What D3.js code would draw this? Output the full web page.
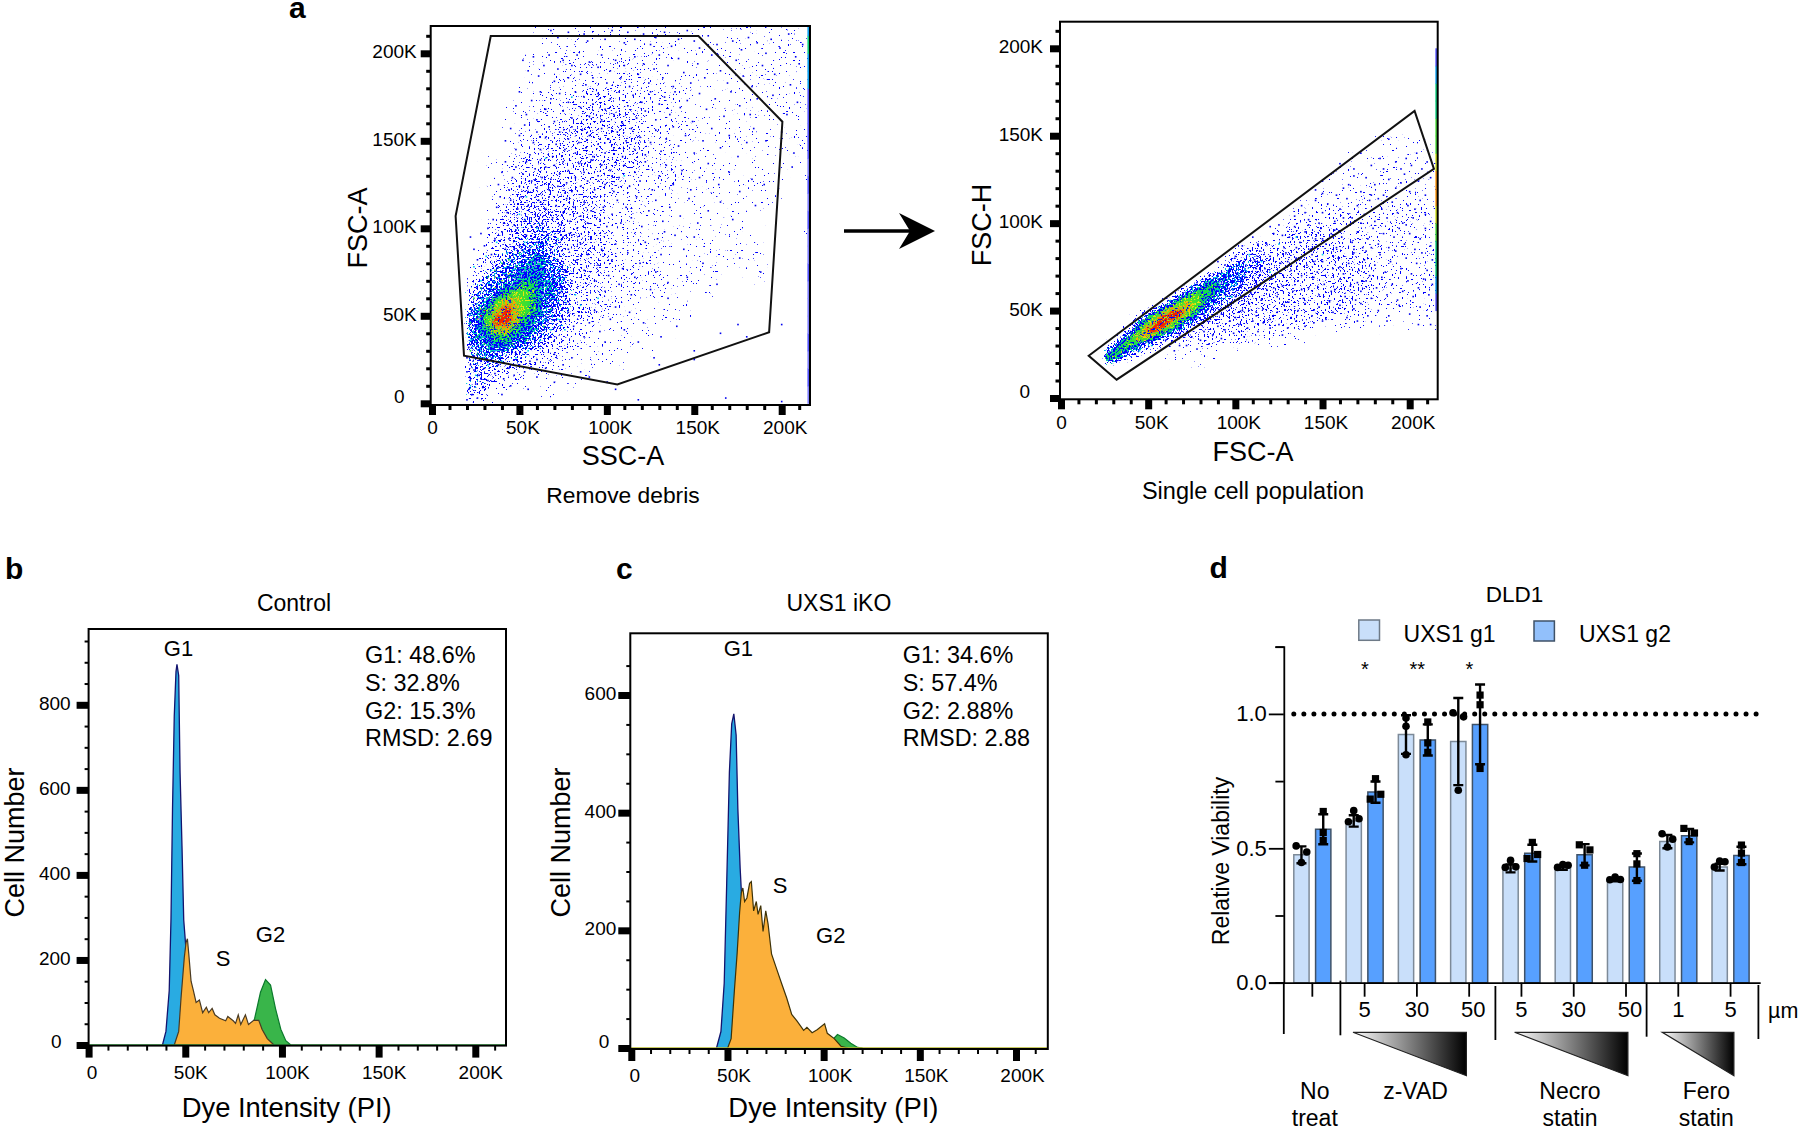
<!DOCTYPE html>
<html>
<head>
<meta charset="utf-8">
<script src="https://cdn.jsdelivr.net/npm/d3@7"></script>
<style>
  html, body { margin: 0; background: #fff; }
  svg { display: block; font-family: "Liberation Sans", Arial, sans-serif; }
</style>
</head>
<body>
<div id="chart"></div>
<script>
// ---- panel a, left: gate and dots (values in K)
const debrisGate = [[33.6,209.9],[152.4,209.9],[200.4,160.9],[192.8,40.6],[106,10.8],[18.3,27.2],[13.5,107]]
// coarse density, top row first. rows 5K tall from y=125 down, columns 5K wide from x=20
const debrisGrid = [
  "0000011111110000","0000111111111000","0000112121111000","0001122221111000","0001222222111100",
  "0011223332211100","0012233333221100","0012233343321110","0122334443321110","0123344554322110",
  "1223445554432211","1234455554432211","2344556655432211","3445677655432211","3457887654432211",
  "4568987654332221","4579986544322211","4568865543321110","4556655433221100","4455544332211000",
  "3444333222110000","3333222211100000","3322221111000000","3322111000000000","3221100000000000",
  "2110000000000000"
]
// the thin outer cloud, 10K cells, from y=210 down, columns from x=30
const debrisSparse = [
  "0001111111111111111","0001111111111111111","0011222222111111111","0011222222211111111",
  "0012223322211111111","0112233332211111111","0122333332221111111","0123333332211111111",
  "1233333332221111101","1233333322211111101","1233333222111111100","1233333221111110000",
  "0000333222111111001","0000033222111111000","0000003222111101000","0000002221111000000",
  "0000002211110000000","0000002111100000000","0000011111000000000","0001111100000000000",
  "0011111000000000000","0001000000000000000"
]
const debrisEdge = [[0,2],[10,3],[20,2],[30,3],[40,2],[50,2],[60,2],[70,3],[80,2],[90,2],[100,3],[110,2],[120,3],[130,2],[140,3],[150,3],[160,3],[170,3],[180,4],[190,4],[200,5],[210,4]]
const debrisBlue = [
  [68,213],[72,209],[78,212],[87,211],[89,207],[99,208],[103,213],[106,210],[110,206],[112,212],[116,208],[121,211],[125,205],[128,209],[133,212],[137,204],[141,208],[146,213],[150,207],[153,203],[158,210],[163,205],[172,207],[177,202],[181,209],[186,206],[191,200],[194,208],[199,203],[204,211],[208,198],[212,205],
  [52,196],[55,190],[58,198],[61,187],[64,193],[67,199],[70,184],[72,191],[75,196],[78,186],[80,193],[83,199],[85,188],[88,182],[90,195],[92,186],[95,192],[97,199],[100,183],[102,190],[105,196],[108,186],[110,193],[113,181],[116,198],[118,188],[121,194],[124,183],[127,191],[130,199],[132,186],[135,193],[138,181],[141,197],[144,189],[148,183],[152,194],[156,186],[160,199],[165,190],[169,183],[174,196],[178,187],[183,181],[189,193],[196,188],[205,182],[210,194],
  [48,170],[50,178],[54,165],[57,173],[60,162],[62,178],[65,168],[68,174],[70,161],[73,177],[75,167],[78,172],[80,163],[82,178],[85,169],[87,175],[90,164],[92,171],[95,177],[97,162],[99,168],[102,174],[104,165],[107,178],[109,160],[112,170],[115,176],[117,163],[120,172],[122,167],[125,178],[128,162],[130,171],[133,175],[136,165],[139,178],[142,169],[146,173],[149,161],[153,177],[157,168],[162,174],[167,164],[171,178],[176,170],[182,165],[186,174],[195,176],[203,165],[209,172],
  [42,150],[45,157],[48,145],[50,153],[53,159],[56,142],[58,149],[60,155],[62,145],[65,152],[67,158],[69,141],[71,148],[73,155],[76,145],[78,151],[80,158],[82,143],[84,149],[86,156],[88,146],[90,153],[92,141],[95,148],[97,157],[99,143],[101,151],[104,146],[106,155],[109,141],[111,150],[114,157],[116,145],[119,152],[122,142],[125,149],[128,156],[131,144],[134,151],[138,158],[141,147],[145,153],[150,143],[155,150],[160,157],[165,146],[170,153],[175,141],[180,149],[184,157],[191,150],[200,155],[207,143],
  [38,125],[40,132],[42,138],[44,122],[46,129],[48,135],[50,124],[52,131],[54,138],[55,121],[57,127],[59,134],[60,123],[62,139],[63,129],[65,135],[67,122],[68,128],[70,136],[72,124],[73,131],[75,138],[77,126],[78,133],[80,121],[82,129],[84,137],[85,124],[87,132],[89,127],[91,139],[93,122],[95,130],[97,136],[99,125],[102,133],[104,121],[107,129],[110,136],[113,124],[116,132],[119,127],[122,138],[126,122],[130,130],[134,136],[138,125],[143,133],[148,122],[153,129],[158,137],[164,125],[170,132],[176,121],[183,128],[190,125],[206,135],
  [35,105],[37,112],[39,118],[41,103],[43,109],[45,116],[47,102],[49,111],[51,118],[53,105],[55,113],[57,101],[59,108],[61,116],[63,103],[65,111],[67,118],[69,106],[71,113],[73,102],[75,109],[77,117],[79,104],[81,112],[83,100],[85,107],[87,115],[89,103],[91,110],[93,118],[96,105],[98,112],[100,101],[103,108],[106,116],[108,103],[111,112],[114,106],[117,118],[120,101],[124,110],[128,116],[132,104],[136,112],[142,107],[147,117],[152,103],[158,110],[165,115],[172,105],[185,113],
  [75,95],[78,88],[80,96],[83,82],[85,91],[87,76],[89,85],[91,94],[93,70],[95,79],[97,88],[99,64],[101,73],[103,82],[105,91],[107,68],[109,77],[112,86],[114,62],[116,72],[119,80],[122,92],[125,65],[128,75],[131,85],[135,69],[139,96],[133,98],[129,94],[144,88],[150,95],[146,72],[155,80],[163,68],[176,83],[188,75],[135,60],
  [72,55],[75,48],[78,52],[81,44],[84,50],[87,38],[90,46],[93,53],[96,41],[99,35],[102,48],[105,55],[110,42],[113,52],[118,35],[121,46],[127,26],[131,38],[140,44],[150,30],[165,40],[175,45],[180,38],[200,45],
  [60,25],[65,20],[70,28],[75,22],[80,26],[85,18],[90,15],[100,12],[105,8],[70,12],[60,15],[55,8],[45,10],[40,5],[118,2],[168,3],[200,1],[130,22],[150,25],
  [22,95],[24,88],[26,82],[28,97],[30,90],[32,100],[34,85],[36,94],[38,78],[40,98],[42,88],[44,94],[46,82],[48,99],[50,90],[52,84],[54,96],[56,88],[58,78],[60,92],[62,84],[64,98],[66,76],[68,88],[70,70],[72,82],[74,64],[76,76],[78,58],[80,70],
  [20,2],[21,8],[22,14],[23,5],[24,19],[25,11],[26,3],[27,16],[28,24],[29,9],[30,20],[32,13],[34,25],[36,17],[38,22],[41,14],[44,20],[47,16],[50,22],[53,18],[56,24],[20,18],[22,22],[25,26],[20,26],[21,32]
]
const debrisCyan = [[24,78],[28,70],[31,84],[34,76],[37,92],[40,70],[43,86],[46,76],[50,80],[53,92],[56,74],[60,66],[63,78],[66,70],[70,62],[72,48],[68,42],[62,36],[55,30],[48,26],[40,24],[32,22],[25,16],[22,10],[28,30],[22,36],[36,30],[64,52],[76,42],[60,100],[82,62],[72,94],[85,56],[95,60],[50,108],[54,118],[65,140],[80,175],[110,130]]
const debrisGreen = [[22,46],[24,60],[26,38],[28,66],[30,34],[32,72],[34,30],[36,76],[38,32],[40,80],[42,36],[44,72],[46,34],[48,78],[50,40],[52,70],[54,36],[56,74],[58,46],[60,70],[62,58],[64,44],[66,62],[56,82],[50,86],[44,82],[26,28],[22,30],[30,26],[68,54]]
const debrisYellow = [[26,48],[28,54],[30,44],[32,60],[34,40],[36,66],[38,42],[40,70],[42,44],[44,62],[46,46],[48,66],[50,50],[52,60],[54,52],[56,66],[44,74],[36,72]]
const debrisRed = [[28,50],[30,53],[32,46],[33,56],[35,49],[36,44],[37,58],[38,52],[39,47],[40,55],[41,62],[42,50],[43,57],[44,53],[45,60],[34,52],[46,56],[31,48]]

// ---- panel a, right
const singletGate = [[15.9,24.2],[202.8,164.2],[213.9,131],[31.9,10.5]]
// rows 2.5K tall from y=87.5 down to y=20, columns 2.5K wide from x=25
const singletGrid = [
  "0000000000000000000000000000000011222211","0000000000000000000000000000001122222211",
  "0000000000000000000000000000011223322211","0000000000000000000000000000122333332221",
  "0000000000000000000000000001233333332221","0000000000000000000000000012334443332222",
  "0000000000000000000000000123444443332222","0000000000000000000000012344544443332221",
  "0000000000000000000001234455544433322221","0000000000000000000123455555444433322211",
  "0000000000000000012345566655443332221111","0000000000000000123456666554433322211111",
  "0000000000000012345677666544333222111111","0000000000001234567777655443332221111000",
  "0000000000012345778877654433222211111000","0000000001234578888876544332221111100000",
  "0000000123456889998765433222211110000000","0000001234678999987654332221111000000000",
  "0000012356789998765443322111100000000000","0000123568899987654332211110000000000000",
  "0001234678998765443222111000000000000000","0012346788876544322111100000000000000000",
  "0123567877654332211110000000000000000000","1235676654432211110000000000000000000000",
  "2456665543221110000000000000000000000000","4566544321110000000000000000000000000000",
  "6665433211000000000000000000000000000000","5543210000000000000000000000000000000000"
]
// the thin outer cloud, 10K cells, from y=140 down, columns from x=60
const singletSparse = [
  "0000000000001111","0000000000111111","0000000001111111","0000000011122121",
  "0000000222222222","0000002333222222","0000023333322222","0000233333332222",
  "0001333333332222","0013333333322222","0133333332221111","1232322100000000","1110000000000000"
]
const singletEdge = [[50,3],[60,4],[70,5],[80,5],[90,6],[100,7],[110,8],[120,8],[130,7],[140,6],[150,6],[160,5],[170,5],[180,4],[190,3]]
const singletBlue = [
  [188,148],[172,140],[160,134],[198,137],[204,140],[201,133],[192,135],[183,137],[178,133],[168,131],[185,131],[195,131],[207,131],[210,135],
  [150,124],[155,128],[162,120],[168,127],[172,118],[175,126],[180,122],[185,116],[188,125],[192,120],[197,128],[200,118],[205,124],[209,116],[212,126],[146,119],[158,116],[165,122],[178,116],[195,123],[150,117],
  [134,104],[138,110],[142,102],[146,113],[150,106],[153,111],[157,101],[160,108],[164,114],[167,103],[170,110],[174,105],[177,113],[180,101],[184,108],[187,103],[190,112],[193,106],[196,100],[199,110],[202,103],[206,113],[209,105],[212,101],[140,106],[148,100],[162,103],[172,100],[182,114],[203,108],
  [118,88],[122,94],[125,99],[128,86],[131,92],[134,98],[137,89],[140,95],[143,85],[146,91],[149,97],[152,88],[155,94],[158,86],[161,92],[164,98],[167,89],[170,95],[173,86],[176,91],[179,97],[182,88],[185,94],[188,86],[191,92],[194,97],[197,88],[200,94],[203,85],[206,91],[209,97],[212,87],[120,98],[127,93],[135,86],[142,99],[150,91],[157,96],[168,85],[178,86],[198,99],
  [108,72],[111,79],[114,84],[117,74],[120,81],[123,71],[126,77],[129,83],[132,73],[135,80],[138,70],[141,76],[144,82],[147,72],[150,78],[153,84],[156,74],[159,80],[162,71],[165,77],[168,83],[171,73],[174,79],[177,70],[180,76],[183,82],[186,72],[189,78],[192,84],[195,74],[198,80],[201,71],[204,77],[207,83],[210,73],[213,79],[130,78],[145,78],[160,75],[175,84],
  [100,58],[103,64],[106,69],[109,60],[112,66],[115,56],[118,62],[121,68],[124,58],[127,64],[130,55],[133,61],[136,67],[139,57],[142,63],[145,69],[148,59],[151,65],[154,55],[157,62],[160,68],[163,58],[166,64],[169,56],[172,61],[175,67],[178,57],[181,63],[184,69],[187,59],[190,65],[193,56],[196,61],[199,67],[202,58],[205,63],[208,68],[211,59],[213,65],[122,63],[138,62],[155,61],[170,66],
  [92,48],[96,52],[100,46],[104,50],[108,54],[112,47],[116,51],[120,45],[124,49],[128,53],[132,46],[136,50],[140,54],[144,47],[148,52],[152,45],[156,49],[160,53],[164,46],[168,51],[172,54],[176,47],[182,50],[188,47],[194,53],[200,48],[206,52],[210,47],
  [72,30],[75,35],[78,28],[80,33],[82,38],[85,31],[87,36],[90,41],[92,34],[94,39],[97,44],[99,37],[102,42],[105,35],[107,40],[110,44],[113,38],[116,43],[120,40],[125,42],[130,40],[135,44],[140,41],[145,43],[150,44],[170,44],[187,44],[205,42],[212,42],[127,36],[65,27],[68,30],
  [104,87],[110,92],[113,88],[100,81],[94,76],[90,78],[85,70],[78,66],[70,60],[105,78],[112,74],[102,70],[95,62],[88,55],[82,48],[75,42],[68,36],[60,33]
]
const singletCyan = [[115,78],[125,88],[100,66],[108,82],[95,70],[90,62],[85,60],[120,72],[135,92],[150,82],[98,58],[78,50],[70,44],[62,38],[52,30],[45,27]]
const singletHot = [[60,47],[55,43],[64,48],[50,40],[57,46],[67,50]]

// ---- panel b, Control (x in K, y in cells)
const controlG1 = [[38.2,0],[40,32],[41.7,128],[42.6,294],[43.4,555],[44.3,773],[45.2,878],[45.7,895],[46.6,869],[47.3,642],[48.3,468],[49.2,294],[50.1,241],[52,120],[54,40],[56,0]]
const controlS = [[44.3,0],[46.6,32],[47.8,110],[49.5,206],[50.4,241],[51.1,250],[51.8,215],[53,150],[54.2,128],[55.6,100],[57.3,106],[59,76],[60.9,89],[62.1,76],[63.9,86],[65.3,71],[67.7,63],[70.9,57],[72,67],[74.8,57],[76,51],[77.4,71],[78.7,48],[81.1,71],[82.7,48],[85.4,58],[88,58],[89.7,37],[92.4,15],[95.9,0]]
const controlG2 = [[80,0],[83,20],[85.9,63],[88.9,124],[91.5,154],[94.1,141],[96.7,85],[99.4,37],[102,10],[104.6,0]]
const controlStats = ["G1: 48.6%", "S: 32.8%", "G2: 15.3%", "RMSD: 2.69"]

// ---- panel c, UXS1 iKO
const ikoG1 = [[44.3,0],[46.6,28],[48.3,110],[49.6,280],[51,469],[52.2,551],[53.3,568],[54.5,532],[55.4,406],[56.6,305],[57.5,249],[60,120],[63,30],[66,0]]
const ikoS = [[50.1,0],[51.9,16],[53.6,98],[55,160],[56.3,230],[57.2,264],[58,272],[58.9,249],[60.1,255],[61.5,280],[62.4,283],[63.6,233],[65,249],[65.9,227],[67.3,242],[68.5,198],[69.9,233],[71.1,211],[72.9,160],[75.5,135],[78.1,110],[80.8,85],[83.4,57],[86.1,46],[89.6,30],[91.3,35],[94,26],[96.6,31],[100.5,41],[101.9,25],[105.5,16],[109,3],[112.5,0]]
const ikoG2 = [[100,3],[104,12],[107.2,23],[110.7,17],[114.1,8],[117.7,1],[120.3,0]]
const ikoStats = ["G1: 34.6%", "S: 57.4%", "G2: 2.88%", "RMSD: 2.88"]

// ---- panel d, DLD1
const treatments = ["none","zvad5","zvad30","zvad50","necro5","necro30","necro50","fero1","fero5"]
const doseLabels = ["","5","30","50","5","30","50","1","5"]
const g1Viability = [0.476,0.602,0.923,0.897,0.425,0.426,0.383,0.525,0.430]
const g2Viability = [0.571,0.709,0.903,0.961,0.482,0.476,0.430,0.547,0.473]
const g1Replicates = [[0.509,0.486,0.447],[0.599,0.640,0.610],[0.985,0.954,0.848],[1.004,0.989,0.716],[0.429,0.455,0.431],[0.429,0.440,0.437],[0.383,0.393,0.384],[0.554,0.534,0.505],[0.430,0.453,0.450]]
const g2Replicates = [[0.637,0.559,0.529],[0.683,0.759,0.701],[0.970,0.892,0.857],[1.070,1.034,0.797],[0.462,0.522,0.477],[0.513,0.494,0.437],[0.480,0.442,0.380],[0.574,0.557,0.525],[0.512,0.482,0.447]]
const stars = [["zvad5","*"],["zvad30","**"],["zvad50","*"]]

// density level to colour and grain cover, one entry per level 0-9. three passes so colours mix like the original
const bluePass = { color: () => "#0000ff", alpha: [0,0.2,0.3,0.42,0.54,0.7,1,1,1,1] }
const coolPass = { colors: [0,0,0,0,"#00b8e8","#00d0b0","#18dc50","#40e030","#80e020","#a0e020"], alpha: [0,0,0,0.16,0.34,0.48,0.64,0.8,0.7,0.55] }
const hotPass = { colors: [0,0,0,0,0,0,0,"#e8e810","#ffa000","#f02000"], alpha: [0,0,0,0,0,0,0.22,0.4,0.52,0.68] }
const sparseAlpha = [0,0.12,0.2,0.3]
const edgeHeat = ["none","#b0b0ff","#8080ff","#5858ff","#10a0f0","#10d080","#50e040","#d0e020","#ff9810","#f02806"]

const svg = d3.select("#chart").append("svg")
    .attr("width", 1800)
    .attr("height", 1131)

const defs = svg.append("defs")

// speckle look of a pseudocolour plot: soften the read cells, then cut them with a fine grain
function addGrain(id, blur, seed) {
  const f = defs.append("filter").attr("id", id)
    .attr("filterUnits", "userSpaceOnUse").attr("x", 0).attr("y", 0).attr("width", 1800).attr("height", 1131)
    .attr("color-interpolation-filters", "sRGB")
  f.append("feGaussianBlur").attr("in", "SourceGraphic").attr("stdDeviation", blur).attr("result", "b")
  f.append("feComponentTransfer").attr("in", "b").attr("result", "solid")
    .append("feFuncA").attr("type", "linear").attr("slope", 30)
  f.append("feTurbulence").attr("type", "fractalNoise").attr("baseFrequency", 0.52)
    .attr("numOctaves", 2).attr("seed", seed).attr("result", "n")
  f.append("feColorMatrix").attr("in", "n").attr("type", "matrix")
    .attr("values", "0 0 0 0 0  0 0 0 0 0  0 0 0 0 0  2.5 0 0 0 -1").attr("result", "na")
  f.append("feComposite").attr("in", "b").attr("in2", "na").attr("operator", "arithmetic")
    .attr("k1", 0).attr("k2", 1.5).attr("k3", 1).attr("k4", -1).attr("result", "sum")
  f.append("feComponentTransfer").attr("in", "sum").attr("result", "mask")
    .append("feFuncA").attr("type", "linear").attr("slope", 14)
  f.append("feComposite").attr("in", "solid").attr("in2", "mask").attr("operator", "in")
}
addGrain("coreBlue", 2.2, 4)
addGrain("coreCool", 2.2, 5)
addGrain("coreHot", 2.2, 6)
addGrain("fineBlue", 1.5, 9)
addGrain("fineCool", 1.5, 10)
addGrain("fineHot", 1.5, 11)
addGrain("grainSparse", 4, 17)

const wedgeFill = defs.append("linearGradient").attr("id", "wedgeFill")
wedgeFill.append("stop").attr("offset", "0%").attr("stop-color", "#fff")
wedgeFill.append("stop").attr("offset", "100%").attr("stop-color", "#000")

const kLabel = d => d === 0 ? "0" : d / 1000 + "K"

const addText = (g, txt, x, y, size, anchor = "middle", weight = "normal") =>
  g.append("text").attr("x", x).attr("y", y)
    .attr("font-size", size).attr("text-anchor", anchor).attr("font-weight", weight)
    .attr("fill", "#000").text(txt)

const addRotated = (g, txt, x, y, size) =>
  g.append("text").attr("transform", `translate(${x},${y}) rotate(-90)`)
    .attr("font-size", size).attr("text-anchor", "middle").attr("fill", "#000").text(txt)

// frame, thick major ticks, thin minor ticks
function flowAxes(o) {
  const g = svg.append("g")
  const xMinor = d3.range(10, 220, 10).filter(d => d % 50)
  const xMajor = [0, 50, 100, 150, 200]

  const minorX = d3.axisBottom(o.x).tickValues(xMinor).tickFormat("").tickSize(o.xMinorLen)
  g.append("g").attr("transform", `translate(0,${o.bottom})`).call(minorX)
    .call(a => a.select(".domain").remove())
    .call(a => a.selectAll("line").attr("stroke-width", o.minorWidth))

  const majorX = d3.axisBottom(o.x).tickValues(xMajor).tickFormat(d => kLabel(d * 1000))
    .tickSize(o.tickLen).tickPadding(o.xPad)
  g.append("g").attr("transform", `translate(0,${o.bottom})`).call(majorX)
    .call(a => a.select(".domain").remove())
    .call(a => a.selectAll("line").attr("stroke-width", 7))
    .call(a => a.selectAll("text").attr("font-size", 19).attr("font-family", null).attr("dx", d => d === 0 ? o.zeroDx : o.xShift))

  const minorY = d3.axisLeft(o.y).tickValues(o.yMinor).tickFormat("").tickSize(o.yMinorLen)
  g.append("g").attr("transform", `translate(${o.left},0)`).call(minorY)
    .call(a => a.select(".domain").remove())
    .call(a => a.selectAll("line").attr("stroke-width", o.minorWidth))

  const majorY = d3.axisLeft(o.y).tickValues(o.yMajor).tickFormat(o.yFormat)
    .tickSize(o.tickLen).tickPadding(o.yPad)
  g.append("g").attr("transform", `translate(${o.left},0)`).call(majorY)
    .call(a => a.select(".domain").remove())
    .call(a => a.selectAll("line").attr("stroke-width", 7))
    .call(a => a.selectAll("text").attr("font-size", 19).attr("font-family", null)
      .attr("y", d => d === 0 ? -o.zeroLift : -1.5)
      .attr("dx", d => d === 0 ? -o.zeroShift : 0))

  g.append("rect").attr("x", o.left).attr("y", o.top)
    .attr("width", o.right - o.left).attr("height", o.bottom - o.top)
    .attr("fill", "none").attr("stroke", "#000").attr("stroke-width", 2)
}

function drawCells(g, o, grid, gridX, gridTop, step, colorOf, alpha, filter) {
  const cells = grid.flatMap((row, r) => row.split("").map((c, i) => ({
    x: gridX + i * step, y: gridTop - r * step, level: +c
  }))).filter(d => alpha[d.level] > 0)

  g.append("g").attr("filter", `url(#${filter})`)
    .selectAll("rect").data(cells).join("rect")
    .attr("x", d => o.x(d.x))
    .attr("y", d => o.y(d.y + step))
    .attr("width", o.x(step) - o.x(0))
    .attr("height", o.y(0) - o.y(step))
    .attr("fill", d => colorOf(d.level))
    .attr("fill-opacity", d => alpha[d.level])
}

function densityPanel(o, sparse, grid, edge, dotSets, gate) {
  const id = "clip" + Math.round(o.left)
  defs.append("clipPath").attr("id", id).append("rect")
    .attr("x", o.left).attr("y", o.top).attr("width", o.right - o.left).attr("height", o.bottom - o.top)
  const g = svg.append("g").attr("clip-path", `url(#${id})`)

  drawCells(g, o, sparse.rows, sparse.x, sparse.top, 10, bluePass.color, sparseAlpha, "grainSparse")
  drawCells(g, o, grid.rows, grid.x, grid.top, grid.step, bluePass.color, bluePass.alpha, grid.filter + "Blue")

  dotSets.forEach(set => {
    g.append("g").selectAll("rect").data(set.dots).join("rect")
      .attr("x", d => o.x(d[0]) - 0.8)
      .attr("y", d => o.y(d[1]) - 0.8)
      .attr("width", 1.6).attr("height", 1.6)
      .attr("fill", set.color)
  })

  drawCells(g, o, grid.rows, grid.x, grid.top, grid.step, l => coolPass.colors[l] || "#00b8e8", coolPass.alpha, grid.filter + "Cool")
  drawCells(g, o, grid.rows, grid.x, grid.top, grid.step, l => hotPass.colors[l] || "#c8e818", hotPass.alpha, grid.filter + "Hot")

  g.append("g").selectAll("rect").data(edge).join("rect")
    .attr("x", o.x(214.7))
    .attr("width", 1.8)
    .attr("y", d => o.y(d[0] + 10))
    .attr("height", o.y(0) - o.y(10) + 0.5)
    .attr("fill", d => edgeHeat[d[1]])

  svg.append("path")
    .attr("d", d3.line().x(d => o.x(d[0])).y(d => o.y(d[1])).curve(d3.curveLinearClosed)(gate))
    .attr("fill", "none").attr("stroke", "#111").attr("stroke-width", 2)
}

const flowMinorY = d3.range(10, 220, 10).filter(d => d % 50)

// panel a left
const debrisAxes = {
  left: 430.7, right: 810, top: 26, bottom: 405,
  x: d3.scaleLinear().domain([0, 200]).range([432, 781.7]),
  y: d3.scaleLinear().domain([0, 200]).range([403.3, 53.3]),
  tickLen: 10, xMinorLen: 5, yMinorLen: 4.5, minorWidth: 3, xPad: 6, yPad: 4, xShift: 3, zeroDx: 0,
  yMajor: [0, 50, 100, 150, 200], yMinor: flowMinorY, yFormat: d => kLabel(d * 1000),
  zeroLift: 6.5, zeroShift: 12
}
densityPanel(debrisAxes,
  { rows: debrisSparse, x: 30, top: 210 },
  { rows: debrisGrid, x: 20, top: 125, step: 5, filter: "core" },
  debrisEdge, [
  { dots: debrisBlue, color: "#0000f0" }, { dots: debrisCyan, color: "#00d8f0" },
  { dots: debrisGreen, color: "#10d040" }, { dots: debrisYellow, color: "#e8e000" }, { dots: debrisRed, color: "#f01000" }
], debrisGate)
flowAxes(debrisAxes)
addRotated(svg, "FSC-A", 367.3, 228, 27)
addText(svg, "SSC-A", 623, 465, 27)
addText(svg, "Remove debris", 623, 502.7, 22.8)

// panel a right
const singletAxes = {
  left: 1060, right: 1437.7, top: 21.7, bottom: 399.3,
  x: d3.scaleLinear().domain([0, 200]).range([1061, 1409.7]),
  y: d3.scaleLinear().domain([0, 200]).range([398, 48.3]),
  tickLen: 10, xMinorLen: 5, yMinorLen: 4.5, minorWidth: 3, xPad: 6, yPad: 7, xShift: 3, zeroDx: 0,
  yMajor: [0, 50, 100, 150, 200], yMinor: flowMinorY, yFormat: d => kLabel(d * 1000),
  zeroLift: 7, zeroShift: 13
}
densityPanel(singletAxes,
  { rows: singletSparse, x: 60, top: 140 },
  { rows: singletGrid, x: 25, top: 87.5, step: 2.5, filter: "fine" },
  singletEdge, [
  { dots: singletBlue, color: "#0000f0" }, { dots: singletCyan, color: "#00d8f0" }, { dots: singletHot, color: "#f01000" }
], singletGate)
flowAxes(singletAxes)
addRotated(svg, "FSC-H", 991, 225, 27)
addText(svg, "FSC-A", 1253, 460.7, 27)
addText(svg, "Single cell population", 1253, 499, 23.5)

// arrow between the two dot plots
svg.append("line").attr("x1", 844).attr("x2", 915).attr("y1", 231).attr("y2", 231)
  .attr("stroke", "#000").attr("stroke-width", 3.5)
svg.append("path").attr("d", "M899,213L935,231L899,249L910,231Z").attr("fill", "#000")

function histogram(o, g1, s, g2, baseColor, sStroke) {
  const layer = svg.append("g")
  const area = d3.area().x(d => o.x(d[0])).y0(o.y(0)).y1(d => o.y(d[1]))
  const line = d3.line().x(d => o.x(d[0])).y(d => o.y(d[1]))

  layer.append("path").attr("d", area(g2)).attr("fill", "#39b54a")
  layer.append("path").attr("d", line(g2)).attr("fill", "none").attr("stroke", "#0b7a2c").attr("stroke-width", 1.2)
  layer.append("path").attr("d", area(g1)).attr("fill", "#29abe2")
  layer.append("path").attr("d", line(g1)).attr("fill", "none").attr("stroke", "#14146e").attr("stroke-width", 1.3)
  layer.append("path").attr("d", area(s)).attr("fill", "#fbb03b")
  layer.append("path").attr("d", line(s)).attr("fill", "none").attr("stroke", sStroke).attr("stroke-width", 1.2)
  layer.append("line").attr("x1", o.left).attr("x2", o.right).attr("y1", o.y(0)).attr("y2", o.y(0))
    .attr("stroke", baseColor).attr("stroke-width", 1.5)
}

// panel b
const controlAxes = {
  left: 88.6, right: 506, top: 629, bottom: 1045.6,
  x: d3.scaleLinear().domain([0, 200]).range([88.6, 475.3]),
  y: d3.scaleLinear().domain([0, 800]).range([1045, 704.8]),
  tickLen: 12, xMinorLen: 5, yMinorLen: 4, minorWidth: 2, xPad: 8, yPad: 6, xShift: 5, zeroDx: 3,
  yMajor: [0, 200, 400, 600, 800], yMinor: d3.range(50, 1000, 50).filter(d => d % 200),
  yFormat: d => d, zeroLift: 3.5, zeroShift: 9
}
histogram(controlAxes, controlG1, controlS, controlG2, "#39b54a", "#4a3a22")
flowAxes(controlAxes)
addRotated(svg, "Cell Number", 23.5, 842.6, 27)
addText(svg, "Dye Intensity (PI)", 286.7, 1116.7, 27.4)
addText(svg, "Control", 294, 611, 23)
addText(svg, "G1", 178.5, 655.6, 22)
addText(svg, "S", 223, 965.5, 22)
addText(svg, "G2", 270.5, 942, 22)
controlStats.forEach((t, i) => addText(svg, t, 365, 663 + i * 27.8, 23.4, "start"))

// panel c
const ikoAxes = {
  left: 630.3, right: 1047.8, top: 633.3, bottom: 1049,
  x: d3.scaleLinear().domain([0, 200]).range([631.3, 1016]),
  y: d3.scaleLinear().domain([0, 600]).range([1048, 695]),
  tickLen: 12, xMinorLen: 5, yMinorLen: 4, minorWidth: 2, xPad: 8, yPad: 2, xShift: 6, zeroDx: 3,
  yMajor: [0, 200, 400, 600], yMinor: d3.range(50, 700, 50).filter(d => d % 200),
  yFormat: d => d, zeroLift: 7, zeroShift: 7
}
histogram(ikoAxes, ikoG1, ikoS, ikoG2, "#b6b82e", "#3d3208")
flowAxes(ikoAxes)
addRotated(svg, "Cell Number", 569.7, 842.6, 27)
addText(svg, "Dye Intensity (PI)", 833.4, 1116.7, 27.4)
addText(svg, "UXS1 iKO", 838.9, 611, 23)
addText(svg, "G1", 738.4, 655.6, 22)
addText(svg, "S", 780, 892.6, 22)
addText(svg, "G2", 830.7, 942.6, 22)
ikoStats.forEach((t, i) => addText(svg, t, 902.7, 663 + i * 27.8, 23.4, "start"))

// panel d
const dX = d3.scaleBand().domain(treatments).range([1286.2, 1756.7])
const dInner = d3.scaleBand().domain(["g1", "g2"]).range([0, dX.bandwidth()]).paddingInner(0.298).paddingOuter(0.349)
const dY = d3.scaleLinear().domain([0, 1.25]).range([982.7, 646.7])
const dPanel = svg.append("g")

// put close replicates side by side, the way the plotting program does
function swarmSides(vals) {
  const s = vals.map((v, i) => ({ v, i })).sort((a, b) => a.v - b.v)
  const out = [0, 0, 0]
  if (s[1].v - s[0].v < 0.028) { out[s[0].i] = -1; out[s[1].i] = 1 }
  else if (s[2].v - s[1].v < 0.028) { out[s[2].i] = -1; out[s[1].i] = 1 }
  return out
}

function drawBars(key, values, replicates, fill, stroke, square) {
  const cx = i => dX(treatments[i]) + dInner(key) + dInner.bandwidth() / 2
  const layer = dPanel.append("g")
  layer.selectAll("path").data(values).join("path")
    .attr("d", (d, i) => {
      const l = cx(i) - dInner.bandwidth() / 2, r = l + dInner.bandwidth()
      return `M${l},${dY(0)}V${dY(d)}H${r}V${dY(0)}Z`
    })
    .attr("fill", fill).attr("stroke", stroke).attr("stroke-width", 1.5)

  values.forEach((v, i) => {
    const sd = d3.deviation(replicates[i])
    const x = cx(i)
    layer.append("path")
      .attr("d", `M${x - 5},${dY(v + sd)}H${x + 5}M${x},${dY(v + sd)}V${dY(v - sd)}M${x - 5},${dY(v - sd)}H${x + 5}`)
      .attr("fill", "none").attr("stroke", "#000").attr("stroke-width", 2.4)
    const sides = swarmSides(replicates[i])
    replicates[i].forEach((p, k) => {
      const px = x + sides[k] * 5.3
      if (square) {
        layer.append("rect").attr("x", px - 3.6).attr("y", dY(p) - 3.6).attr("width", 7.2).attr("height", 7.2).attr("fill", "#000")
      } else {
        layer.append("circle").attr("cx", px).attr("cy", dY(p)).attr("r", 3.8).attr("fill", "#000")
      }
    })
  })
}

drawBars("g1", g1Viability, g1Replicates, "#c9dffa", "#7d8a98", false)
drawBars("g2", g2Viability, g2Replicates, "#57a0ff", "#3f5268", true)

dPanel.append("line").attr("x1", 1293.8).attr("x2", 1757.6)
  .attr("y1", dY(1)).attr("y2", dY(1))
  .attr("stroke", "#000").attr("stroke-width", 5)
  .attr("stroke-linecap", "round").attr("stroke-dasharray", "0 10.05")

dPanel.append("g").attr("transform", "translate(1283.8,0)")
  .call(d3.axisLeft(dY).tickValues([0.25, 0.75, 1.25]).tickFormat("").tickSize(8.4))
  .call(a => a.selectAll("line,path").attr("stroke-width", 1.8))
dPanel.append("g").attr("transform", "translate(1283.8,0)")
  .call(d3.axisLeft(dY).tickValues([0, 0.5, 1]).tickFormat(d3.format(".1f")).tickSize(15).tickPadding(2))
  .call(a => a.select(".domain").remove())
  .call(a => a.selectAll("line").attr("stroke-width", 1.8))
  .call(a => a.selectAll("text").attr("font-size", 22).attr("font-family", null))

dPanel.append("g").attr("transform", `translate(0,${dY(0)})`)
  .call(d3.axisBottom(dX).tickFormat((d, i) => doseLabels[i]).tickSize(14).tickPadding(5).tickSizeOuter(0))
  .call(a => a.select(".domain").attr("d", "M1269,0.5H1760.7").attr("stroke-width", 1.8))
  .call(a => a.selectAll("line").attr("stroke-width", 1.8))
  .call(a => a.selectAll("text").attr("font-size", 22).attr("font-family", null)
    .attr("dx", (d, i) => doseLabels[i] === "50" ? 4 : 0))

const dividers = [[1283.8,982.7,1034],[1340.4,980.7,1035.3],[1495.4,986,1040],[1646.6,982.7,1036.7],[1758.4,985,1039]]
dPanel.selectAll(".divider").data(dividers).join("line").attr("class", "divider")
  .attr("x1", d => d[0]).attr("x2", d => d[0]).attr("y1", d => d[1]).attr("y2", d => d[2])
  .attr("stroke", "#000").attr("stroke-width", 1.8)

const wedges = [[1353,1466.4],[1514.6,1627.9],[1662.3,1733.9]]
dPanel.selectAll(".wedge").data(wedges).join("path").attr("class", "wedge")
  .attr("d", d => `M${d[0]},1032.3H${d[1]}V1075.7Z`)
  .attr("fill", "url(#wedgeFill)").attr("stroke", "#222").attr("stroke-width", 1.2)

stars.forEach(([k, s]) => addText(dPanel, s, dX(k) + dX.bandwidth() / 2 + 0.3, 676, 20))

addRotated(dPanel, "Relative Viability", 1228.7, 861, 23)
addText(dPanel, "DLD1", 1514.6, 602.3, 22.5)
dPanel.append("rect").attr("x", 1358.8).attr("y", 620).attr("width", 20.7).attr("height", 20.3)
  .attr("fill", "#c9dffa").attr("stroke", "#6e7a87").attr("stroke-width", 1.5)
dPanel.append("rect").attr("x", 1534).attr("y", 621).attr("width", 20.4).attr("height", 20)
  .attr("fill", "#92c0fb").attr("stroke", "#3f5268").attr("stroke-width", 1.5)
addText(dPanel, "UXS1 g1", 1403.6, 642.3, 23, "start")
addText(dPanel, "UXS1 g2", 1578.9, 642.3, 23, "start")
addText(dPanel, "µm", 1768, 1017.7, 21.5, "start")

// the last line sits right on the page edge, so these two rows are lifted a little
addText(dPanel, "No", 1314.8, 1099, 23)
addText(dPanel, "treat", 1314.8, 1126, 23)
addText(dPanel, "z-VAD", 1415.5, 1099, 23)
addText(dPanel, "Necro", 1570, 1099, 23)
addText(dPanel, "statin", 1570, 1126, 23)
addText(dPanel, "Fero", 1706.3, 1099, 23)
addText(dPanel, "statin", 1706.3, 1126, 23)

// panel letters
addText(svg, "a", 289, 18, 30, "start", "bold")
addText(svg, "b", 5, 579, 30, "start", "bold")
addText(svg, "c", 616, 579, 30, "start", "bold")
addText(svg, "d", 1209.6, 578, 30, "start", "bold")
</script>
</body>
</html>
